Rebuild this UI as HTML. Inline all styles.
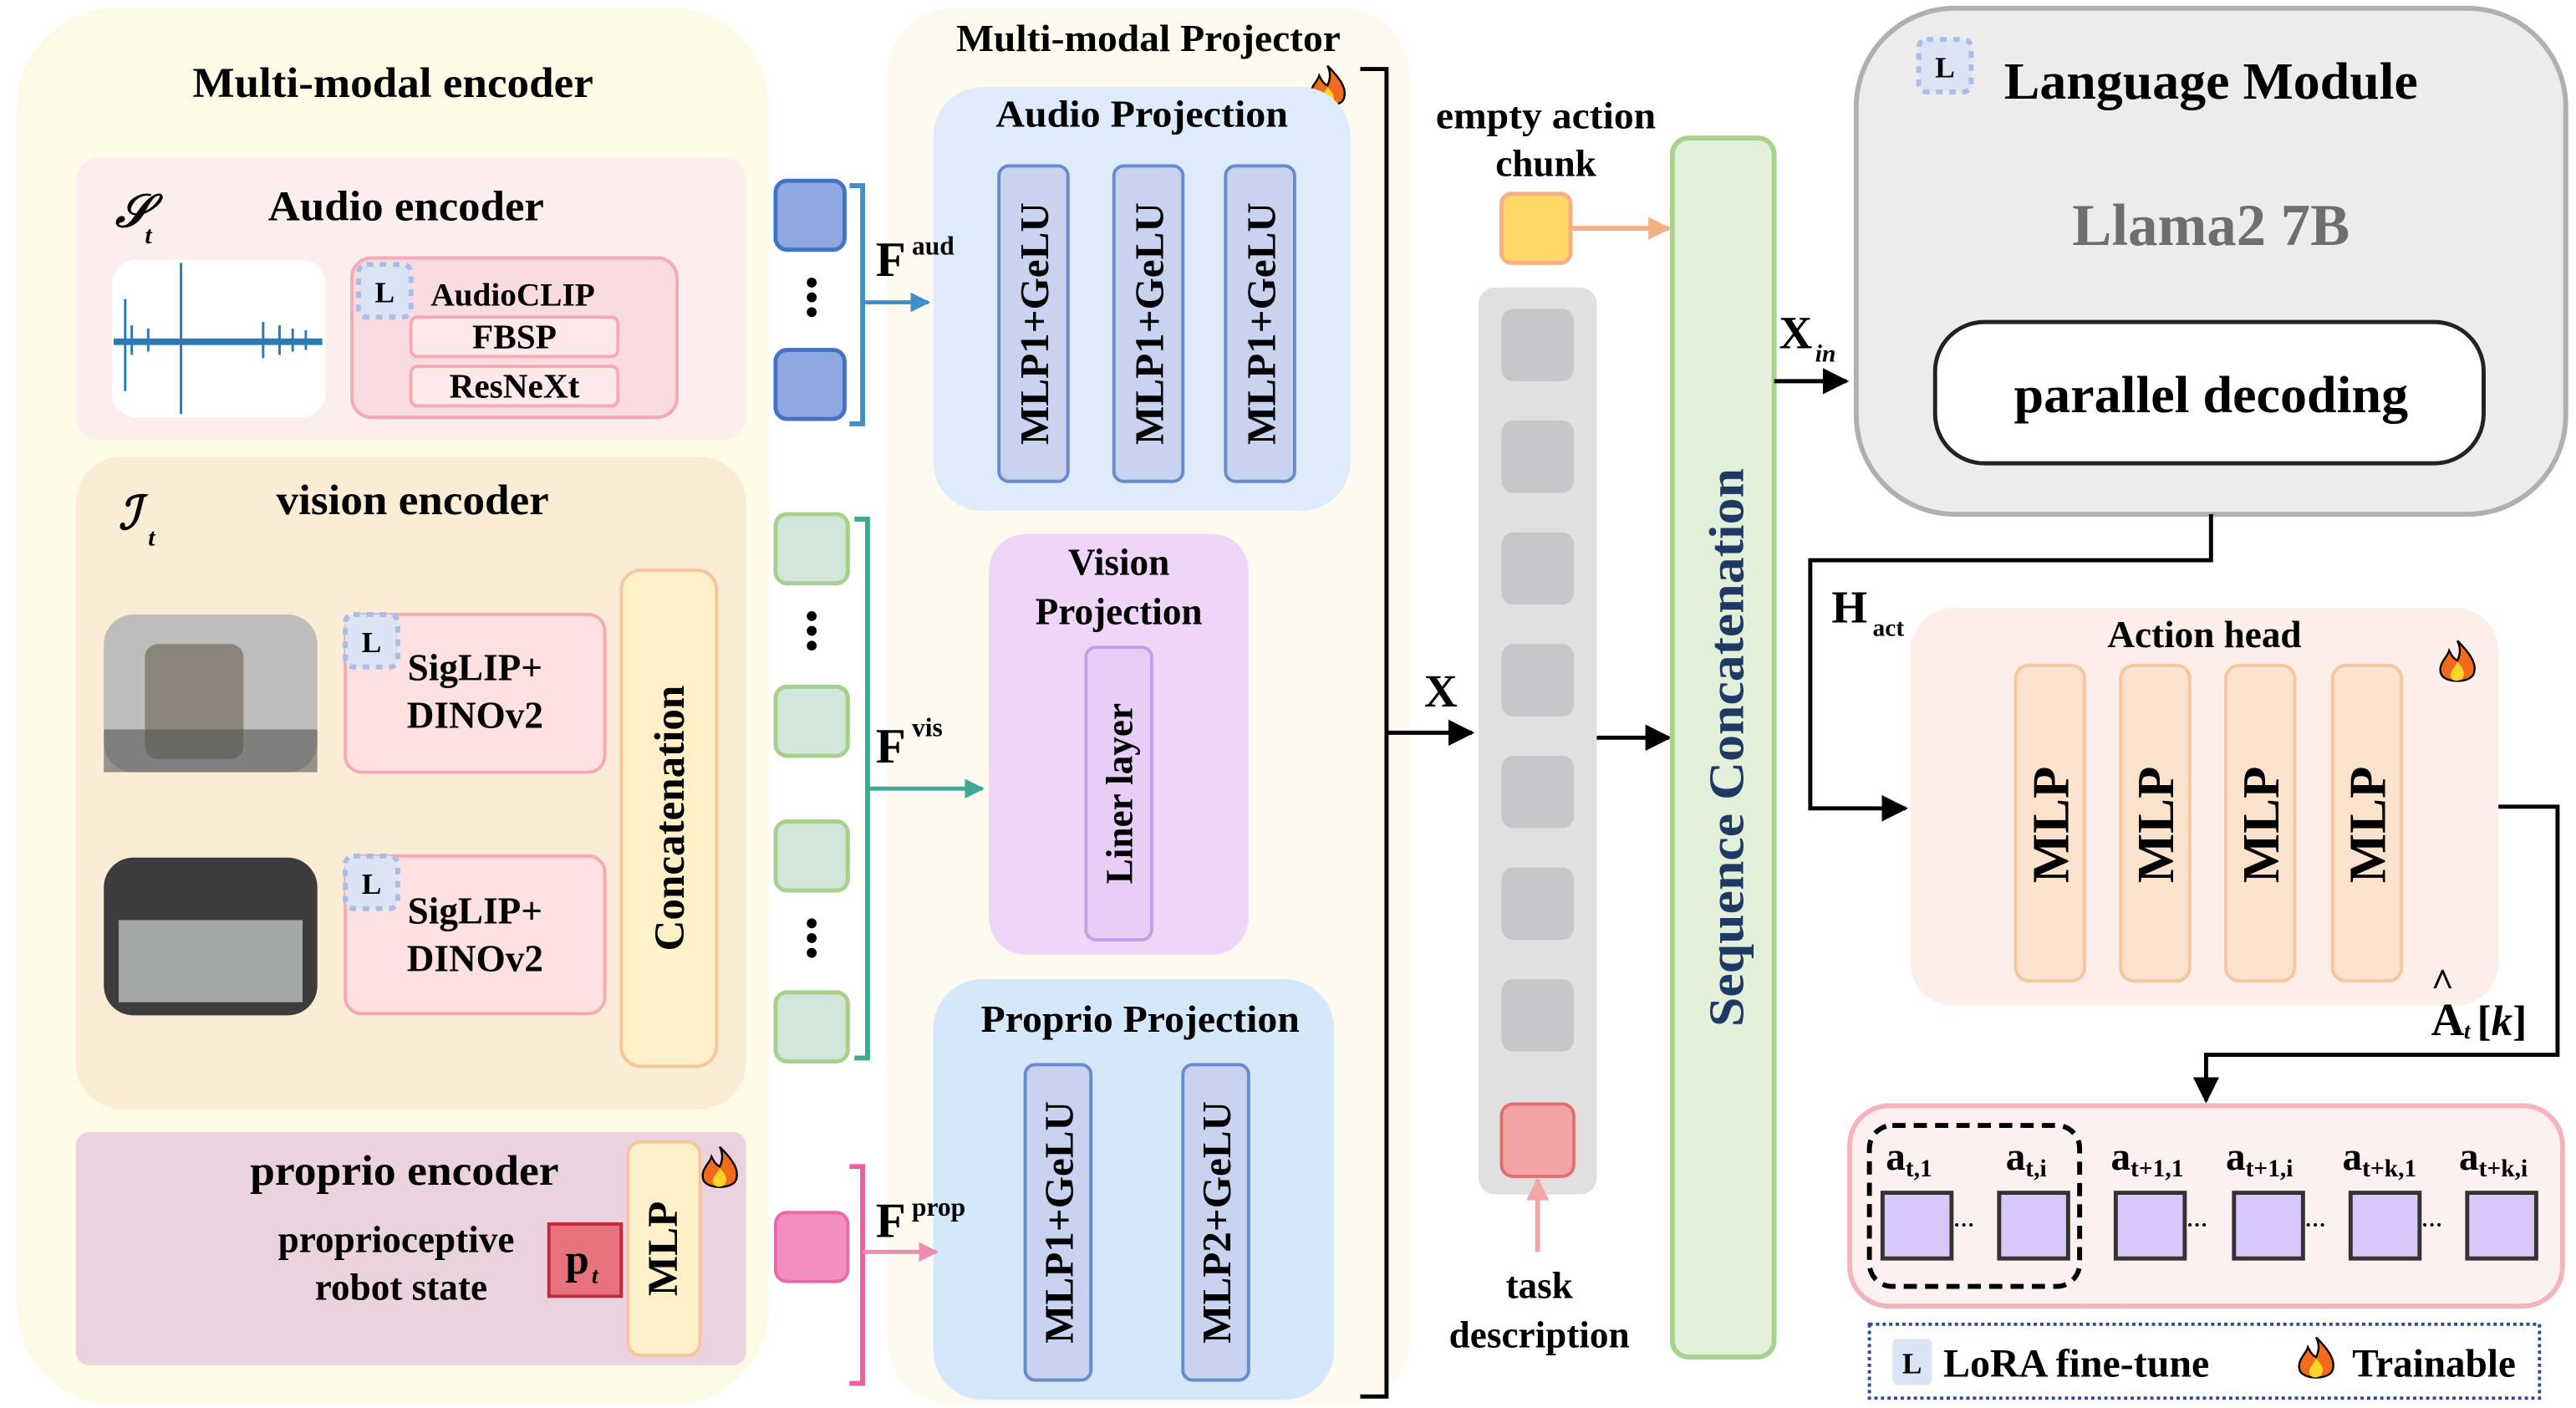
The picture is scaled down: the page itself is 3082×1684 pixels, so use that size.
<!DOCTYPE html>
<html><head><meta charset="utf-8"><style>html,body{margin:0;padding:0;background:#fff}svg{display:block}text{font-family:"Liberation Serif",serif;font-weight:bold}</style></head>
<body>
<svg width="3082" height="1684" viewBox="0 0 1568 857" xmlns="http://www.w3.org/2000/svg">
<defs>
<marker id="abl" viewBox="0 0 10 10" markerWidth="12" markerHeight="12" refX="9" refY="5" orient="auto" markerUnits="userSpaceOnUse"><path d="M0,0 L10,5 L0,10z" fill="#3f8fc8"/></marker>
<marker id="atl" viewBox="0 0 10 10" markerWidth="12" markerHeight="12" refX="9" refY="5" orient="auto" markerUnits="userSpaceOnUse"><path d="M0,0 L10,5 L0,10z" fill="#3aaa92"/></marker>
<marker id="apk" viewBox="0 0 10 10" markerWidth="12" markerHeight="12" refX="9" refY="5" orient="auto" markerUnits="userSpaceOnUse"><path d="M0,0 L10,5 L0,10z" fill="#f08cb0"/></marker>
<marker id="aor" viewBox="0 0 10 10" markerWidth="14" markerHeight="14" refX="9" refY="5" orient="auto" markerUnits="userSpaceOnUse"><path d="M0,0 L10,5 L0,10z" fill="#f4b183"/></marker>
<marker id="ape" viewBox="0 0 10 10" markerWidth="14" markerHeight="14" refX="9" refY="5" orient="auto" markerUnits="userSpaceOnUse"><path d="M0,0 L10,5 L0,10z" fill="#f4a6a6"/></marker>
<marker id="abk" viewBox="0 0 10 10" markerWidth="16" markerHeight="16" refX="9" refY="5" orient="auto" markerUnits="userSpaceOnUse"><path d="M0,0 L10,5 L0,10z" fill="#000"/></marker>
<g id="flame"><path d="M0,-14 C8,-6 12,0 10,6 C8,12 -8,12 -10,6 C-12,0 -6,-4 -5,-8 C-3,-4 -2,-3 0,-2 C2,-6 2,-10 0,-14z" fill="#f26a1b" stroke="#000" stroke-width="1.2"/><path d="M0,-1 C4,3 5,6 3,9 C1,11 -3,11 -4,8 C-5,5 -2,3 0,-1z" fill="#ffd42a"/></g>
<g id="lb"><rect x="0" y="0" width="32" height="32" rx="5" fill="#dbe3f5" stroke="#a8bde8" stroke-width="3" stroke-dasharray="4 4"/><text x="16" y="23" font-size="18" text-anchor="middle" font-weight="normal">L</text></g>
</defs>

<!-- Encoder panel -->
<rect x="10" y="5" width="458" height="850" rx="60" fill="#fdfbe6"/>
<text x="239" y="59" font-size="26" text-anchor="middle" textLength="244" lengthAdjust="spacingAndGlyphs">Multi-modal encoder</text>
<rect x="46" y="96" width="408" height="172" rx="14" fill="#fdeeee"/>
<text x="70" y="138" font-size="28" font-style="italic" font-weight="normal">𝒮</text><text x="88" y="148" font-size="15" font-style="italic" font-weight="normal">t</text>
<text x="247" y="134" font-size="26" text-anchor="middle" textLength="168" lengthAdjust="spacingAndGlyphs">Audio encoder</text>
<rect x="68" y="158" width="130" height="96" rx="15" fill="#fff"/>
<path d="M69 208 H196 M76 182 V238 M80 198 V216 M90 200 V214 M110 160 V252 M160 196 V218 M170 198 V216 M178 200 V214 M186 201 V213" stroke="#2a7ab8" stroke-width="1.5"/>
<rect x="69" y="206" width="127" height="4" fill="#2a7ab8"/>
<rect x="214" y="157" width="198" height="97" rx="12" fill="#f9dbe0" stroke="#f4aab3" stroke-width="2"/>
<use href="#lb" x="218" y="161"/>
<text x="312" y="186" font-size="20" text-anchor="middle">AudioCLIP</text>
<rect x="250" y="193" width="126" height="24" rx="4" fill="#fde8ea" stroke="#f4aab3" stroke-width="2"/>
<text x="313" y="212" font-size="21" text-anchor="middle">FBSP</text>
<rect x="250" y="223" width="126" height="24" rx="4" fill="#fde8ea" stroke="#f4aab3" stroke-width="2"/>
<text x="313" y="242" font-size="21" text-anchor="middle">ResNeXt</text>

<rect x="46" y="278" width="408" height="397" rx="28" fill="#fbecd6"/>
<text x="72" y="322" font-size="28" font-style="italic" font-weight="normal">ℐ</text><text x="90" y="332" font-size="15" font-style="italic" font-weight="normal">t</text>
<text x="251" y="313" font-size="26" text-anchor="middle" textLength="166" lengthAdjust="spacingAndGlyphs">vision encoder</text>
<rect x="63" y="374" width="130" height="96" rx="18" fill="#bdbdbb"/>
<rect x="88" y="392" width="60" height="70" rx="8" fill="#8a8479"/>
<rect x="63" y="444" width="130" height="26" fill="#555" opacity="0.6"/>
<rect x="63" y="522" width="130" height="96" rx="18" fill="#3c3c3c"/>
<rect x="72" y="560" width="112" height="50" fill="#a3a7a6"/>
<rect x="210" y="374" width="158" height="96" rx="10" fill="#fde0e2" stroke="#f4aab3" stroke-width="2"/>
<use href="#lb" x="210" y="374"/>
<text x="289" y="414" font-size="23" text-anchor="middle">SigLIP+</text><text x="289" y="443" font-size="23" text-anchor="middle">DINOv2</text>
<rect x="210" y="521" width="158" height="96" rx="10" fill="#fde0e2" stroke="#f4aab3" stroke-width="2"/>
<use href="#lb" x="210" y="521"/>
<text x="289" y="562" font-size="23" text-anchor="middle">SigLIP+</text><text x="289" y="591" font-size="23" text-anchor="middle">DINOv2</text>
<rect x="378" y="347" width="58" height="302" rx="12" fill="#fff0c8" stroke="#f6c79e" stroke-width="2"/>
<text transform="translate(416,498) rotate(-90)" font-size="26" text-anchor="middle">Concatenation</text>

<rect x="46" y="689" width="408" height="142" rx="8" fill="#ead2de"/>
<text x="246" y="721" font-size="26" text-anchor="middle" textLength="188" lengthAdjust="spacingAndGlyphs">proprio encoder</text>
<text x="241" y="762" font-size="23" text-anchor="middle">proprioceptive</text>
<text x="244" y="791" font-size="23" text-anchor="middle">robot state</text>
<rect x="334" y="745" width="44" height="44" fill="#e8737f" stroke="#c02c3c" stroke-width="2"/>
<text x="344" y="775" font-size="26">p</text><text x="360" y="781" font-size="14" font-style="italic" font-weight="normal">t</text>
<rect x="382" y="695" width="44" height="130" rx="8" fill="#fef0c8" stroke="#f6c79e" stroke-width="2"/>
<text transform="translate(412,760) rotate(-90)" font-size="26" text-anchor="middle">MLP</text>
<use href="#flame" x="438" y="712"/>

<!-- Projector -->
<rect x="540" y="5" width="318" height="850" rx="40" fill="#fefaf0"/>
<text x="699" y="31" font-size="23" text-anchor="middle" textLength="234" lengthAdjust="spacingAndGlyphs">Multi-modal Projector</text>
<use href="#flame" x="808" y="54"/>
<rect x="568" y="53" width="254" height="258" rx="30" fill="#deebfa"/>
<text x="695" y="77" font-size="23" text-anchor="middle" textLength="178" lengthAdjust="spacingAndGlyphs">Audio Projection</text>
<g fill="#c9d3f0" stroke="#6a8ad0" stroke-width="2">
<rect x="608" y="101" width="42" height="192" rx="6"/><rect x="678" y="101" width="42" height="192" rx="6"/><rect x="746" y="101" width="42" height="192" rx="6"/></g>
<text transform="translate(638,197) rotate(-90)" font-size="25" text-anchor="middle">MLP1+GeLU</text>
<text transform="translate(708,197) rotate(-90)" font-size="25" text-anchor="middle">MLP1+GeLU</text>
<text transform="translate(776,197) rotate(-90)" font-size="25" text-anchor="middle">MLP1+GeLU</text>
<rect x="602" y="325" width="158" height="256" rx="22" fill="#efd6f8"/>
<text x="681" y="350" font-size="23" text-anchor="middle">Vision</text>
<text x="681" y="380" font-size="23" text-anchor="middle">Projection</text>
<rect x="661" y="394" width="40" height="178" rx="6" fill="#e8cdf6" stroke="#c0a0e8" stroke-width="2"/>
<text transform="translate(689,483) rotate(-90)" font-size="23" text-anchor="middle">Liner layer</text>
<rect x="568" y="596" width="244" height="256" rx="30" fill="#d4e8fa"/>
<text x="694" y="628" font-size="23" text-anchor="middle" textLength="194" lengthAdjust="spacingAndGlyphs">Proprio Projection</text>
<g fill="#c9d3f0" stroke="#6a8ad0" stroke-width="2">
<rect x="624" y="648" width="40" height="192" rx="6"/><rect x="720" y="648" width="40" height="192" rx="6"/></g>
<text transform="translate(653,744) rotate(-90)" font-size="25" text-anchor="middle">MLP1+GeLU</text>
<text transform="translate(749,744) rotate(-90)" font-size="25" text-anchor="middle">MLP2+GeLU</text>
<path d="M828 42 h16 v808 h-16" fill="none" stroke="#000" stroke-width="2.5"/>
<line x1="844" y1="446" x2="896" y2="446" stroke="#000" stroke-width="2.5" marker-end="url(#abk)"/>
<text x="877" y="430" font-size="28" text-anchor="middle">X</text>

<!-- tokens -->
<rect x="472" y="110" width="42" height="42" rx="7" fill="#8ea9e0" stroke="#4472c4" stroke-width="2.5"/>
<rect x="472" y="213" width="42" height="42" rx="7" fill="#8ea9e0" stroke="#4472c4" stroke-width="2.5"/>
<g fill="#000"><circle cx="494" cy="172" r="3"/><circle cx="494" cy="181" r="3"/><circle cx="494" cy="190" r="3"/>
<circle cx="494" cy="375" r="3"/><circle cx="494" cy="384" r="3"/><circle cx="494" cy="393" r="3"/>
<circle cx="494" cy="562" r="3"/><circle cx="494" cy="571" r="3"/><circle cx="494" cy="580" r="3"/></g>
<path d="M517 113 h8 v145 h-8" fill="none" stroke="#3f8fc8" stroke-width="3"/>
<line x1="525" y1="184" x2="565" y2="184" stroke="#3f8fc8" stroke-width="2.5" marker-end="url(#abl)"/>
<text x="533" y="168" font-size="30">F</text><text x="555" y="155" font-size="16" font-weight="normal">aud</text>
<g fill="#d2e6dc" stroke="#a8d08d" stroke-width="2.5">
<rect x="472" y="313" width="44" height="42" rx="7"/><rect x="472" y="418" width="44" height="42" rx="7"/><rect x="472" y="500" width="44" height="42" rx="7"/><rect x="472" y="604" width="44" height="42" rx="7"/></g>
<path d="M520 316 h8 v328 h-8" fill="none" stroke="#3aaa92" stroke-width="3"/>
<line x1="528" y1="480" x2="598" y2="480" stroke="#3aaa92" stroke-width="2.5" marker-end="url(#atl)"/>
<text x="533" y="464" font-size="30">F</text><text x="555" y="448" font-size="16" font-weight="normal">vis</text>
<rect x="472" y="738" width="44" height="42" rx="7" fill="#f28ec0" stroke="#e76aa4" stroke-width="2"/>
<path d="M517 710 h8 v132 h-8" fill="none" stroke="#e8609c" stroke-width="3"/>
<line x1="525" y1="762" x2="570" y2="762" stroke="#f08cb0" stroke-width="2.5" marker-end="url(#apk)"/>
<text x="533" y="753" font-size="30">F</text><text x="555" y="740" font-size="16" font-weight="normal">prop</text>

<!-- middle -->
<text x="941" y="78" font-size="23" text-anchor="middle" textLength="134" lengthAdjust="spacingAndGlyphs">empty action</text>
<text x="941" y="107" font-size="23" text-anchor="middle">chunk</text>
<rect x="914" y="118" width="42" height="42" rx="6" fill="#ffd966" stroke="#f4b183" stroke-width="2.5"/>
<line x1="957" y1="139" x2="1016" y2="139" stroke="#f4b183" stroke-width="3" marker-end="url(#aor)"/>
<rect x="900" y="175" width="72" height="552" rx="10" fill="#e0e0e0"/>
<g fill="#c6c7cb"><rect x="914" y="188" width="44" height="44" rx="7"/><rect x="914" y="256" width="44" height="44" rx="7"/><rect x="914" y="324" width="44" height="44" rx="7"/><rect x="914" y="392" width="44" height="44" rx="7"/><rect x="914" y="460" width="44" height="44" rx="7"/><rect x="914" y="528" width="44" height="44" rx="7"/><rect x="914" y="596" width="44" height="44" rx="7"/></g>
<rect x="914" y="672" width="44" height="44" rx="7" fill="#f4a4a4" stroke="#e07070" stroke-width="2"/>
<line x1="936" y1="762" x2="936" y2="718" stroke="#f4a6a6" stroke-width="3" marker-end="url(#ape)"/>
<text x="937" y="790" font-size="23" text-anchor="middle">task</text>
<text x="937" y="820" font-size="23" text-anchor="middle">description</text>
<line x1="972" y1="449" x2="1016" y2="449" stroke="#000" stroke-width="2.5" marker-end="url(#abk)"/>
<rect x="1018" y="84" width="62" height="742" rx="10" fill="#e2f0d9" stroke="#a9d18e" stroke-width="3"/>
<text transform="translate(1061,455) rotate(-90)" font-size="30" text-anchor="middle" fill="#1f3864" textLength="340" lengthAdjust="spacingAndGlyphs">Sequence Concatenation</text>
<line x1="1080" y1="232" x2="1124" y2="232" stroke="#000" stroke-width="2.5" marker-end="url(#abk)"/>
<text x="1083" y="212" font-size="28">X</text><text x="1105" y="220" font-size="15" font-style="italic" font-weight="normal">in</text>

<!-- Language module -->
<rect x="1130" y="5" width="432" height="308" rx="60" fill="#ececec" stroke="#b0b0b0" stroke-width="3"/>
<use href="#lb" x="1168" y="24"/>
<text x="1346" y="60" font-size="32" text-anchor="middle" textLength="252" lengthAdjust="spacingAndGlyphs">Language Module</text>
<text x="1346" y="149" font-size="36" text-anchor="middle" fill="#6e6e6e">Llama2 7B</text>
<rect x="1178" y="196" width="334" height="86" rx="30" fill="#fff" stroke="#222" stroke-width="2.5"/>
<text x="1346" y="251" font-size="32" text-anchor="middle" textLength="240" lengthAdjust="spacingAndGlyphs">parallel decoding</text>
<path d="M1346 313 V341 H1102 V492 H1160" fill="none" stroke="#000" stroke-width="2.5" marker-end="url(#abk)"/>
<text x="1115" y="379" font-size="28">H</text><text x="1140" y="387" font-size="15" font-weight="normal">act</text>

<rect x="1163" y="370" width="358" height="242" rx="26" fill="#fdeeea"/>
<text x="1342" y="394" font-size="23" text-anchor="middle">Action head</text>
<use href="#flame" x="1496" y="404"/>
<g fill="#fbe2cc" stroke="#f6c79e" stroke-width="2">
<rect x="1227" y="405" width="42" height="192" rx="8"/><rect x="1291" y="405" width="42" height="192" rx="8"/><rect x="1355" y="405" width="42" height="192" rx="8"/><rect x="1420" y="405" width="42" height="192" rx="8"/></g>
<text transform="translate(1259,502) rotate(-90)" font-size="32" text-anchor="middle">MLP</text>
<text transform="translate(1323,502) rotate(-90)" font-size="32" text-anchor="middle">MLP</text>
<text transform="translate(1387,502) rotate(-90)" font-size="32" text-anchor="middle">MLP</text>
<text transform="translate(1452,502) rotate(-90)" font-size="32" text-anchor="middle">MLP</text>
<path d="M1521 491 H1557 V642 H1343 V670" fill="none" stroke="#000" stroke-width="2.5" marker-end="url(#abk)"/>
<text x="1480" y="630" font-size="28">A</text><text x="1480" y="606" font-size="24" font-weight="normal">^</text><text x="1500" y="632" font-size="14" font-style="italic" font-weight="normal">t</text><text x="1508" y="630" font-size="26" font-weight="normal">[<tspan font-style="italic">k</tspan>]</text>

<rect x="1126" y="673" width="434" height="122" rx="24" fill="#fdf0f0" stroke="#f4b4be" stroke-width="3"/>
<rect x="1138" y="685" width="128" height="98" rx="14" fill="none" stroke="#000" stroke-width="3" stroke-dasharray="8 5"/>
<g fill="#d9c8fa" stroke="#333" stroke-width="2.5">
<rect x="1146" y="726" width="42" height="40"/><rect x="1217" y="726" width="42" height="40"/><rect x="1288" y="726" width="42" height="40"/><rect x="1360" y="726" width="42" height="40"/><rect x="1431" y="726" width="42" height="40"/><rect x="1502" y="726" width="42" height="40"/></g>
<g font-size="13" font-weight="bold"><text x="1189" y="750">···</text><text x="1331" y="750">···</text><text x="1403" y="750">···</text><text x="1474" y="750">···</text></g>
<g font-size="24"><text x="1148" y="712">a<tspan font-size="15" dy="4">t,1</tspan></text><text x="1221" y="712">a<tspan font-size="15" dy="4">t,i</tspan></text>
<text x="1285" y="712">a<tspan font-size="15" dy="4">t+1,1</tspan></text><text x="1355" y="712">a<tspan font-size="15" dy="4">t+1,i</tspan></text>
<text x="1426" y="712">a<tspan font-size="15" dy="4">t+k,1</tspan></text><text x="1497" y="712">a<tspan font-size="15" dy="4">t+k,i</tspan></text></g>

<rect x="1138" y="806" width="408" height="45" fill="none" stroke="#2f4b8a" stroke-width="2" stroke-dasharray="2 2"/>
<rect x="1152" y="815" width="24" height="28" rx="3" fill="#dbe3f5"/>
<text x="1164" y="836" font-size="18" text-anchor="middle" font-weight="normal">L</text>
<text x="1183" y="838" font-size="24" textLength="162" lengthAdjust="spacingAndGlyphs">LoRA fine-tune</text>
<use href="#flame" x="1410" y="828"/>
<text x="1432" y="838" font-size="24">Trainable</text>
</svg>
</body></html>
